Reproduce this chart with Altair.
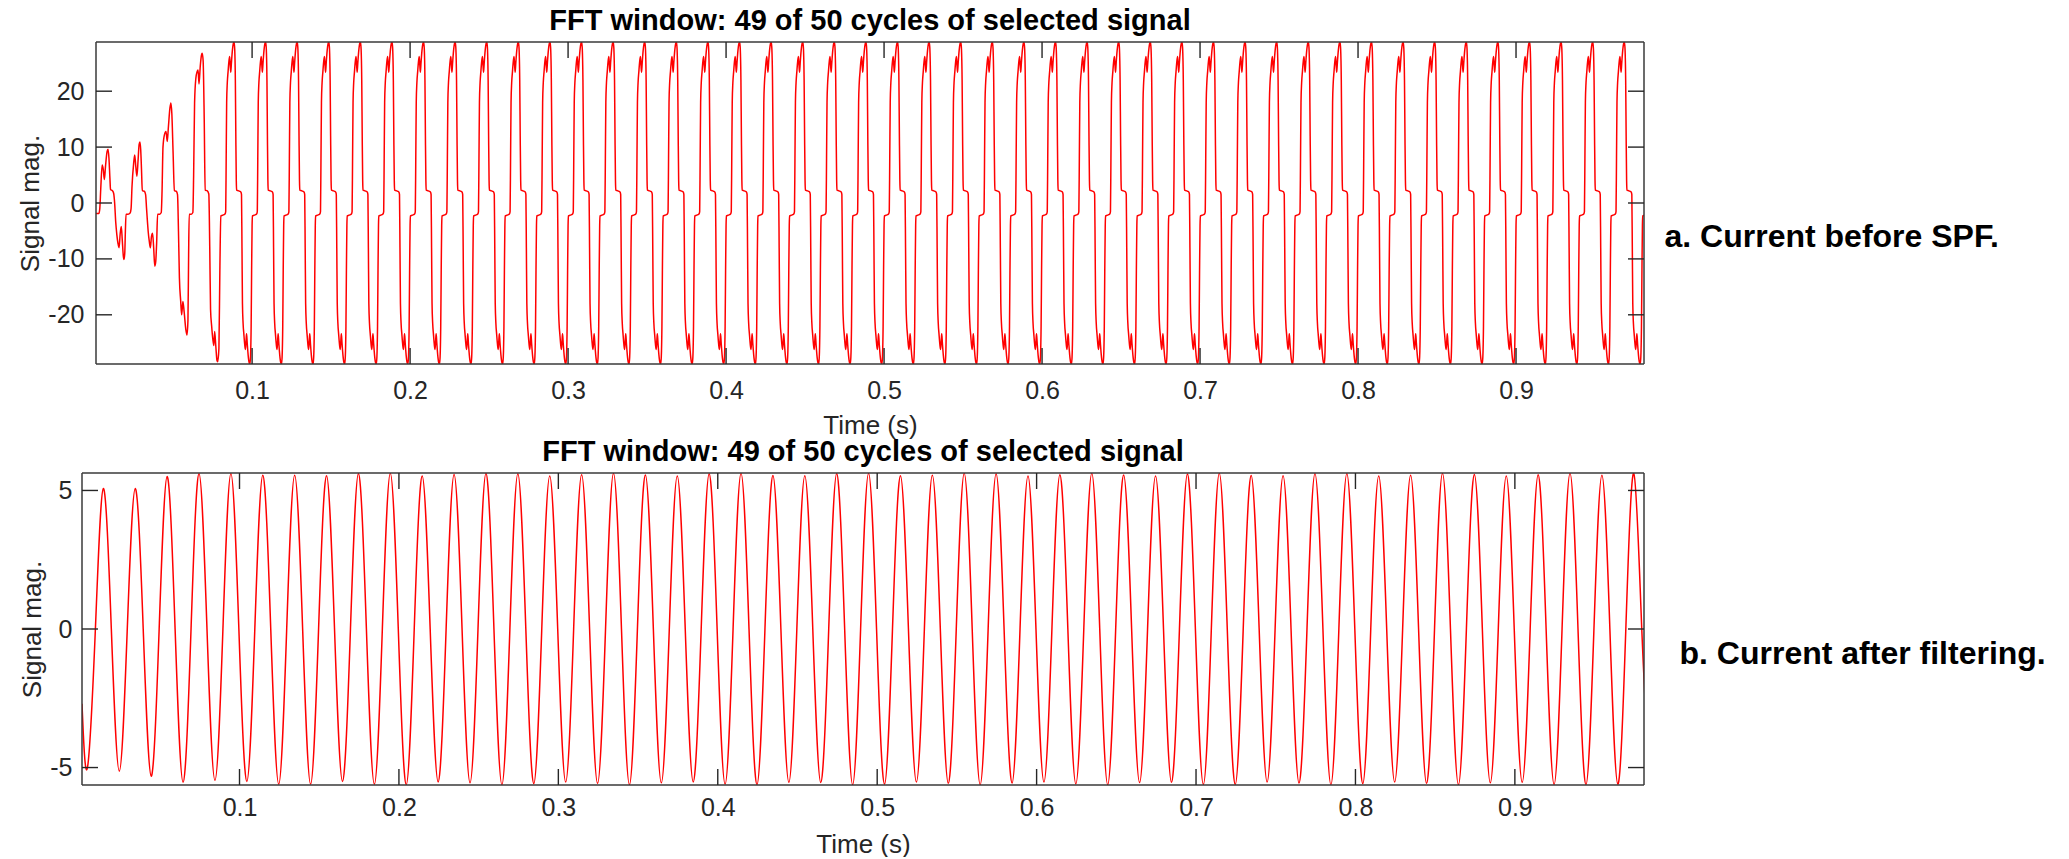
import altair as alt
import pandas as pd

FONT = "Liberation Sans"
TITLE = "FFT window: 49 of 50 cycles of selected signal"
X_TITLE = "Time (s)"
Y_TITLE = "Signal mag."
LABEL_A = "a. Current before SPF."
LABEL_B = "b. Current after filtering."

X_TICKS = [0.1, 0.2, 0.3, 0.4, 0.5, 0.6, 0.7, 0.8, 0.9]
A_Y_TICKS = [-20, -10, 0, 10, 20]
B_Y_TICKS = [-5, 0, 5]
X_DOMAIN = [0.0012, 0.981]
A_Y_DOMAIN = [-28.8, 28.8]
B_Y_DOMAIN = [-5.63, 5.63]

# ---- panel a: start-up transient, cycle by cycle (time s, value) ----
A_C0_T = [0.0012, 0.0030, 0.0036, 0.0042, 0.0051, 0.0058, 0.0065, 0.0072, 0.0082, 0.0088,
          0.0094, 0.0100, 0.0104, 0.0116, 0.0124, 0.0130, 0.0137, 0.0144, 0.0151, 0.0158,
          0.0165, 0.0172, 0.0178, 0.0185, 0.0189, 0.0194, 0.0198]
A_C0_V = [-1.9, -1.9, -1.0, 2.5, 6.8, 6.0, 4.2, 6.5, 9.2, 9.6,
          8.0, 4.5, 2.4, 2.2, 1.7, 0.0, -3.5, -5.7, -7.2, -8.0,
          -5.5, -4.2, -6.5, -9.5, -10.1, -9.0, -5.0]
A_C1_T = [0.0202, 0.0215, 0.0228, 0.0234, 0.0240, 0.0250, 0.0257, 0.0264, 0.0271, 0.0278,
          0.0285, 0.0290, 0.0295, 0.0300, 0.0305, 0.0318, 0.0326, 0.0332, 0.0338, 0.0342,
          0.0350, 0.0356, 0.0363, 0.0370, 0.0377, 0.0384, 0.0390, 0.0396]
A_C1_V = [-2.0, -2.0, -1.8, -1.0, 3.0, 7.0, 8.6, 6.5, 4.8, 7.5,
          10.5, 10.9, 9.5, 6.0, 2.2, 2.1, 1.5, -1.0, -3.5, -5.0,
          -7.0, -8.0, -6.0, -5.4, -8.0, -11.3, -10.5, -7.0]
A_C2_T = [0.0402, 0.0415, 0.0425, 0.0430, 0.0436, 0.0445, 0.0455, 0.0463, 0.0470, 0.0480,
          0.0486, 0.0492, 0.0500, 0.0508, 0.0520, 0.0528, 0.0534, 0.0540, 0.0548, 0.0554,
          0.0562, 0.0570, 0.0580, 0.0588, 0.0594, 0.0598]
A_C2_V = [-2.0, -2.0, -1.7, 2.0, 10.0, 12.2, 12.8, 11.0, 13.5, 17.0,
          17.9, 16.0, 9.0, 2.2, 2.1, 1.5, -5.0, -13.4, -17.5, -20.0,
          -17.6, -19.5, -22.5, -23.6, -21.0, -10.0]
A_C3_T = [0.0602, 0.0615, 0.0625, 0.0630, 0.0636, 0.0644, 0.0652, 0.0658, 0.0664, 0.0672,
          0.0680, 0.0684, 0.0690, 0.0697, 0.0703, 0.0715, 0.0726, 0.0732, 0.0737, 0.0744,
          0.0752, 0.0758, 0.0763, 0.0770, 0.0778, 0.0782, 0.0790, 0.0796]
A_C3_V = [-2.0, -2.0, -1.7, 5.0, 18.0, 22.3, 23.5, 23.8, 21.3, 24.5,
          26.5, 26.8, 25.5, 15.0, 2.3, 2.2, 1.6, -8.0, -19.0, -22.0,
          -24.5, -25.5, -23.0, -25.5, -28.2, -28.4, -26.0, -12.0]

# ---- panel a: steady-state half cycle (phase ms, value);
# the second half of each cycle is the same shape with opposite sign ----
A_HALF_PHASE_MS = [0.0, 1.0, 2.0, 2.8, 3.1, 3.4, 3.7, 4.1, 4.6, 5.2, 5.6,
                   6.0, 6.3, 6.7, 7.3, 7.9, 8.4, 8.8, 9.2, 9.5, 9.8]
A_HALF_VALUE = [-2.3, -2.2, -2.1, -1.9, -1.5, 8.0, 18.0, 21.5, 23.5, 25.5, 26.2,
                24.5, 23.4, 25.0, 27.2, 28.5, 28.8, 27.5, 22.0, 12.0, 4.0]
A_STEADY_CYCLES = list(range(4, 50))
PERIOD_S = 0.02
A_CYCLE_START_S = 0.0002

# ---- panel b: filtered sine, extrema per cycle ----
B_START = (0.0012, -2.7)
B_MIN_PHASE_S, B_UP_PHASE_S, B_MAX_PHASE_S, B_DOWN_PHASE_S = 0.0046, 0.0096, 0.0146, 0.0196
B_MAX = [5.07, 5.07, 5.50, 5.61, 5.61, 5.55, 5.55, 5.53, 5.61, 5.62,
         5.52, 5.58, 5.62, 5.60, 5.52, 5.57, 5.62, 5.56, 5.52, 5.60,
         5.62, 5.54, 5.53, 5.61, 5.62, 5.53, 5.55, 5.62, 5.60, 5.52,
         5.57, 5.62, 5.56, 5.52, 5.59, 5.62, 5.54, 5.53, 5.61, 5.61,
         5.52, 5.55, 5.62, 5.58, 5.52, 5.57, 5.62, 5.55, 5.61]
B_MIN = [-5.01, -5.13, -5.31, -5.53, -5.46, -5.50, -5.60, -5.60, -5.50, -5.60,
         -5.62, -5.52, -5.55, -5.62, -5.58, -5.52, -5.57, -5.62, -5.55, -5.52,
         -5.60, -5.62, -5.53, -5.54, -5.62, -5.60, -5.52, -5.57, -5.62, -5.56,
         -5.52, -5.59, -5.62, -5.54, -5.53, -5.61, -5.61, -5.52, -5.56, -5.62,
         -5.58, -5.52, -5.57, -5.62, -5.55, -5.53, -5.61, -5.62, -5.60, -5.60]

# ---------------- build tables ----------------
rows_a = []
for ts, vs in [(A_C0_T, A_C0_V), (A_C1_T, A_C1_V), (A_C2_T, A_C2_V), (A_C3_T, A_C3_V)]:
    rows_a += list(zip(ts, vs))
for k in A_STEADY_CYCLES:
    base = PERIOD_S * k + A_CYCLE_START_S
    for p, v in zip(A_HALF_PHASE_MS, A_HALF_VALUE):
        rows_a.append((base + p / 1000.0, v))
    for p, v in zip(A_HALF_PHASE_MS, A_HALF_VALUE):
        rows_a.append((base + PERIOD_S / 2 + p / 1000.0, -v))
rows_a = [r for r in rows_a if r[0] <= 0.9835]
df_a = pd.DataFrame(rows_a, columns=["t", "v"])

rows_b = [B_START]
for k, mx in enumerate(B_MAX):
    base = PERIOD_S * k
    rows_b.append((base + B_MIN_PHASE_S, B_MIN[k]))
    rows_b.append((base + B_UP_PHASE_S, 0.0))
    rows_b.append((base + B_MAX_PHASE_S, mx))
    rows_b.append((base + B_DOWN_PHASE_S, 0.0))
rows_b.append((PERIOD_S * len(B_MAX) + B_MIN_PHASE_S, B_MIN[len(B_MAX)]))
df_b = pd.DataFrame(rows_b, columns=["t", "v"])

TICK = 16
TICK_COLOR = "#262626"
FRAME_COLOR = "#3a3a3a"
GROUP_W = 1562


def panel(df, ydom, yticks, x0px, height, ylab_pad, xlab_pad, xtitle_pad,
          interp, side_text, side_x, side_y, title_offset, title_dx):
    xs = alt.Scale(domain=X_DOMAIN, range=[x0px, GROUP_W], nice=False, zero=False)
    ys = alt.Scale(domain=ydom, nice=False, zero=False)
    line = alt.Chart(df).mark_line(
        color="#ff0000", strokeWidth=1.5, clip=True, interpolate=interp
    ).encode(
        x=alt.X("t:Q", scale=xs, axis=alt.Axis(
            orient="bottom", values=X_TICKS, labelExpr="'' + datum.value",
            title=X_TITLE, titleX=x0px + (GROUP_W - x0px) / 2,
            ticks=False, tickSize=0, domain=False, grid=False,
            labelPadding=xlab_pad, titlePadding=xtitle_pad)),
        y=alt.Y("v:Q", scale=ys, axis=alt.Axis(
            orient="left", values=yticks, labelExpr="'' + datum.value",
            title=Y_TITLE, ticks=False, tickSize=0, domain=False, grid=False,
            labelPadding=ylab_pad, titlePadding=4)),
    )
    frame_df = pd.DataFrame({
        "x": [X_DOMAIN[0], X_DOMAIN[1], X_DOMAIN[0], X_DOMAIN[0]],
        "x2": [X_DOMAIN[0], X_DOMAIN[1], X_DOMAIN[1], X_DOMAIN[1]],
        "y": [ydom[0], ydom[0], ydom[1], ydom[0]],
        "y2": [ydom[1], ydom[1], ydom[1], ydom[0]],
    })
    frame = alt.Chart(frame_df).mark_rule(color=FRAME_COLOR, strokeWidth=1.5).encode(
        x=alt.X("x:Q", scale=xs, axis=None), x2="x2:Q",
        y=alt.Y("y:Q", scale=ys, axis=None), y2="y2:Q")
    xt = alt.Chart(pd.DataFrame({"t": X_TICKS}))
    xtick_top = xt.mark_rule(color=TICK_COLOR, strokeWidth=1.4).encode(
        x=alt.X("t:Q", scale=xs, axis=None), y=alt.value(0), y2=alt.value(TICK))
    xtick_bot = xt.mark_rule(color=TICK_COLOR, strokeWidth=1.4).encode(
        x=alt.X("t:Q", scale=xs, axis=None), y=alt.value(height - TICK), y2=alt.value(height))
    yt = alt.Chart(pd.DataFrame({"v": yticks}))
    ytick_left = yt.mark_rule(color=TICK_COLOR, strokeWidth=1.4).encode(
        y=alt.Y("v:Q", scale=ys, axis=None), x=alt.value(x0px), x2=alt.value(x0px + TICK))
    ytick_right = yt.mark_rule(color=TICK_COLOR, strokeWidth=1.4).encode(
        y=alt.Y("v:Q", scale=ys, axis=alt.Axis(
            orient="right", ticks=False, labels=False, domain=False, grid=False,
            title=side_text, titleAngle=0, titleX=side_x, titleY=side_y,
            titleAlign="left", titleBaseline="middle", titleFontSize=32,
            titleFontWeight="bold", titleColor="black", minExtent=0, maxExtent=0)),
        x=alt.value(GROUP_W - TICK), x2=alt.value(GROUP_W))
    return alt.layer(line, frame, xtick_top, xtick_bot, ytick_left, ytick_right).resolve_axis(
        x="independent", y="independent"
    ).properties(
        width=GROUP_W, height=height,
        title=alt.TitleParams(text=TITLE, fontSize=29, fontWeight="bold", font=FONT,
                              color="black", anchor="middle", offset=title_offset,
                              dx=title_dx, frame="group"),
    )


pa = panel(df_a, A_Y_DOMAIN, A_Y_TICKS, 14, 322, -2, 14, 9, "monotone",
           LABEL_A, 20, 194, 5, 7)
pb = panel(df_b, B_Y_DOMAIN, B_Y_TICKS, 0, 312, 10, 10, 11, "natural",
           LABEL_B, 35, 180, 5, 0)

chart = alt.vconcat(pa, pb, spacing=0).properties(
    padding={"left": 17, "top": 7, "right": 5, "bottom": 0},
    background="white",
).configure_view(
    strokeOpacity=0
).configure_axis(
    labelFont=FONT, labelFontSize=25, labelColor="#262626",
    titleFont=FONT, titleFontSize=26, titleFontWeight="normal", titleColor="#262626",
)

chart.save("out.html", embed_options={"renderer": "svg", "actions": False})
